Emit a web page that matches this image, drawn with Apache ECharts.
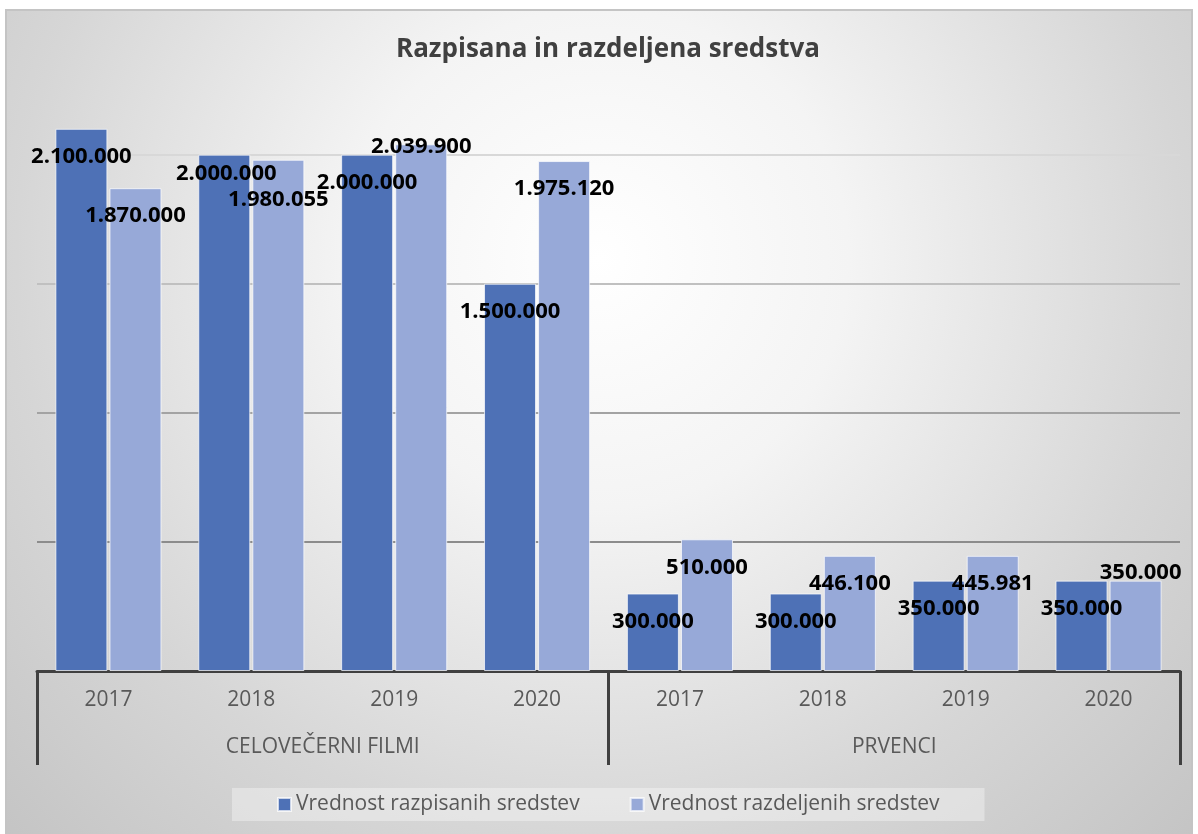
<!DOCTYPE html>
<html>
<head>
<meta charset="utf-8">
<script src="https://cdn.jsdelivr.net/npm/echarts@6/dist/echarts.min.js"></script>
<style>
  html, body { margin: 0; padding: 0; background: #fff; }
  #chart { width: 1198px; height: 834px; }
</style>
</head>
<body>
<div id="chart"></div>
<script>
// 数据
const years = ['2017', '2018', '2019', '2020', '2017', '2018', '2019', '2020']
const groups = ['CELOVEČERNI FILMI', 'PRVENCI']
const razpisana = [2100000, 2000000, 2000000, 1500000, 300000, 300000, 350000, 350000]
const razdeljena = [1870000, 1980055, 2039900, 1975120, 510000, 446100, 445981, 350000]
const seriesNames = ['Vrednost razpisanih sredstev', 'Vrednost razdeljenih sredstev']

const font = '"Open Sans", "Noto Sans", sans-serif'

// 1.234.567 oblika
const fmt = v => String(v).replace(/\B(?=(\d{3})+(?!\d))/g, '.')

// ročni premiki oznak (kot v Excelu)
const nudgeDark = { 1: [2, -9] }
const nudgeLight = { 1: [0, 12], 2: [0, -26], 7: [5, -36] }

const toItems = (arr, nudge) => arr.map((v, i) => nudge[i] ? { value: v, label: { offset: nudge[i] } } : v)

const chart = echarts.init(document.getElementById('chart'))

const barLabel = {
  show: true,
  position: 'insideTop',
  distance: 17,
  color: '#000',
  fontFamily: font,
  fontWeight: 'bold',
  fontSize: 22,
  formatter: p => fmt(p.value)
}

const option = {
  backgroundColor: '#ffffff',
  animation: false,
  graphic: [
    {
      type: 'rect',
      z: -10,
      shape: { x: 6, y: 10, width: 1186, height: 830 },
      style: {
        stroke: '#c4c4c4',
        lineWidth: 2,
        fill: {
          type: 'radial', x: 0.5, y: 0.3, r: 1,
          colorStops: [
            { offset: 0, color: '#ffffff' },
            { offset: 0.3, color: '#f4f4f4' },
            { offset: 0.7, color: '#d6d6d6' },
            { offset: 1, color: '#c4c4c4' }
          ]
        }
      }
    }
  ],
  title: {
    text: 'Razpisana in razdeljena sredstva',
    left: 391,
    top: 32,
    textStyle: { fontFamily: font, fontSize: 26, fontWeight: 'bold', color: '#404040' }
  },
  legend: {
    data: seriesNames,
    left: 232,
    top: 788,
    icon: 'rect',
    itemWidth: 13,
    itemHeight: 13,
    itemGap: 50,
    padding: [6, 45],
    backgroundColor: 'rgba(255,255,255,0.35)',
    textStyle: { fontFamily: font, fontSize: 21, color: '#595959' }
  },
  grid: { left: 37, right: 18, top: 103, bottom: 163 },
  xAxis: [
    {
      type: 'category',
      position: 'bottom',
      data: years,
      axisLine: { lineStyle: { color: '#404040', width: 3 } },
      axisTick: { show: false },
      axisLabel: { margin: 19, fontFamily: font, fontSize: 21, color: '#595959', interval: 0 }
    },
    {
      type: 'category',
      position: 'bottom',
      data: groups,
      axisLine: { show: false },
      axisTick: { show: true, interval: 0, length: 94, lineStyle: { color: '#404040', width: 3 } },
      axisLabel: { margin: 66, fontFamily: font, fontSize: 21, color: '#595959', interval: 0 }
    }
  ],
  yAxis: {
    type: 'value',
    min: 0,
    max: 2200000,
    interval: 500000,
    axisLabel: { show: false },
    axisLine: { show: false },
    axisTick: { show: false },
    splitLine: {
      show: true,
      showMaxLine: false,
      lineStyle: { color: ['#7f7f7f', '#8c8c8c', '#a3a3a3', '#c0c0c0', '#d8d8d8'], width: 2 }
    }
  },
  series: [
    {
      name: seriesNames[0],
      type: 'bar',
      xAxisIndex: 0,
      barWidth: 52,
      barGap: '4%',
      data: toItems(razpisana, nudgeDark),
      itemStyle: { color: '#4e71b6', borderColor: 'rgba(255,255,255,0.7)', borderWidth: 1 },
      label: barLabel
    },
    {
      name: seriesNames[1],
      type: 'bar',
      xAxisIndex: 0,
      barWidth: 52,
      barGap: '4%',
      data: toItems(razdeljena, nudgeLight),
      itemStyle: { color: '#97a9d8', borderColor: 'rgba(255,255,255,0.7)', borderWidth: 1 },
      label: barLabel
    }
  ]
}

chart.setOption(option)
</script>
</body>
</html>
